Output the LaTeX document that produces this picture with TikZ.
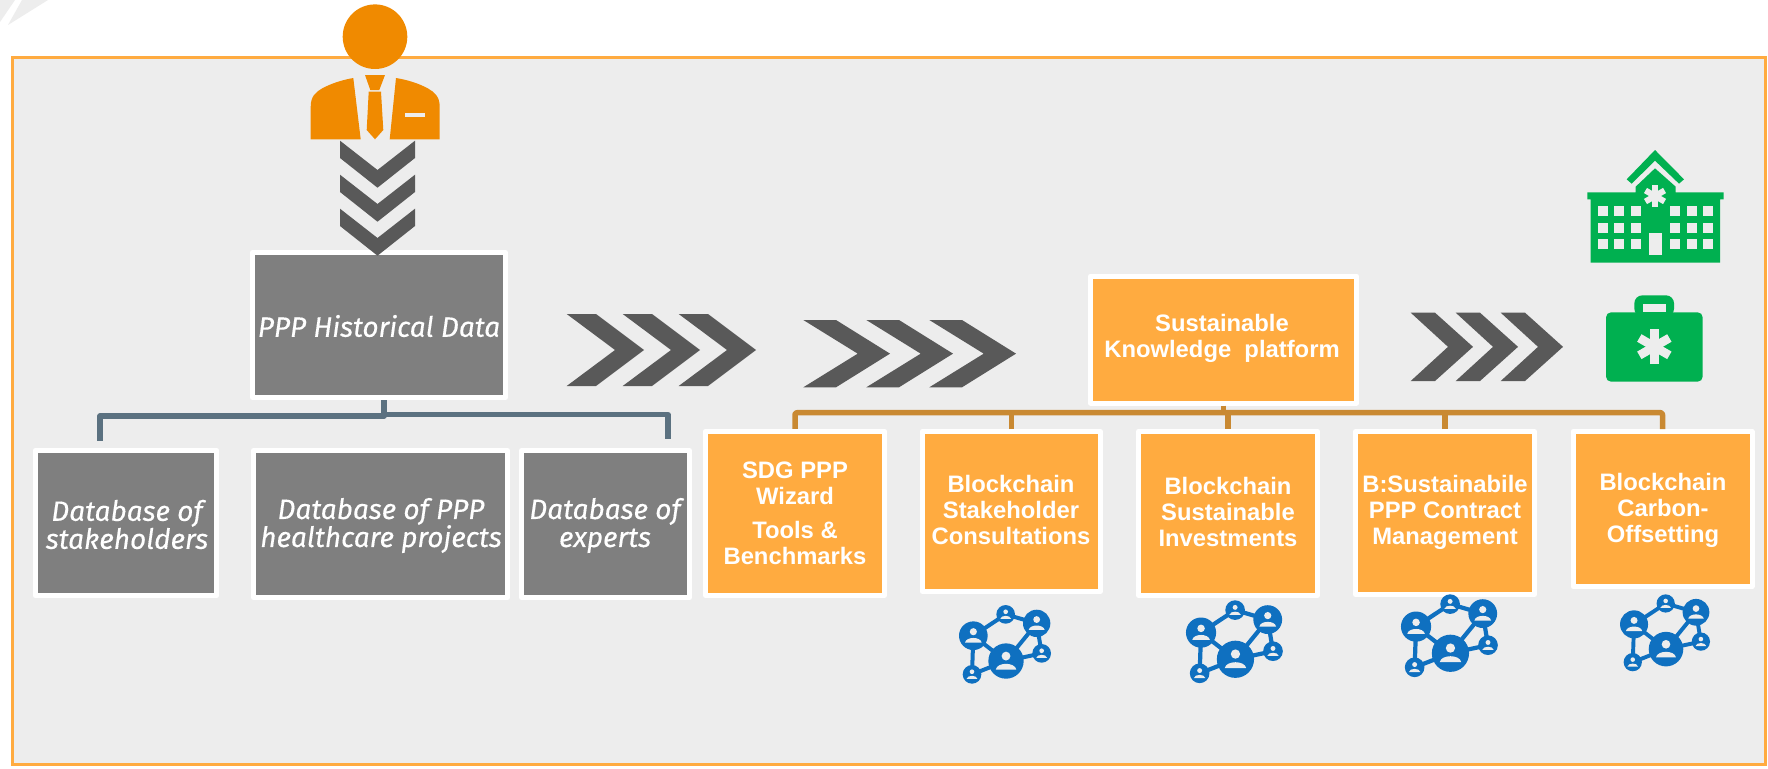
\documentclass[tikz,border=0pt]{standalone}
\usepackage{fontspec}
\setmainfont{Liberation Sans}
\newfontfamily\itfont{Fira Sans}[ItalicFeatures={FakeBold=0.3}]
\usetikzlibrary{calc}
\definecolor{framec}{HTML}{FFAB40}
\definecolor{panel}{HTML}{EDEDED}
\definecolor{greybox}{HTML}{7F7F7F}
\definecolor{chev}{HTML}{595959}
\definecolor{manor}{HTML}{F08A00}
\definecolor{greenc}{HTML}{00B050}
\definecolor{netblue}{HTML}{0F70C0}
\definecolor{slatec}{HTML}{5B7180}
\definecolor{brownc}{HTML}{C98932}
\tikzset{
  boxbase/.style={rectangle,draw=white,line width=5pt,line join=round,inner sep=0pt,outer sep=2.5pt},
  gbox/.style={boxbase,fill=greybox},
  obox/.style={boxbase,fill=framec},
  gtext/.style={text=white,align=center,inner sep=0pt,font=\fontsize{28}{28}\selectfont\itfont\itshape},
  otext/.style={text=white,align=center,inner sep=0pt,font=\fontsize{23.8}{26}\selectfont\bfseries},
  slateline/.style={draw=slatec,line width=5.5pt,line join=round},
  brownline/.style={draw=brownc,line width=5.5pt,line join=round,rounded corners=2pt},
}
% chevron pointing right: left x, top y, bottom y, top width, tip x, notch x
\newcommand{\chevR}[6]{\fill[chev] (#1,#2) -- (#1+#4,#2) -- (#5,{(#2+#3)/2}) -- (#1+#4,#3) -- (#1,#3) -- (#6,{(#2+#3)/2}) -- cycle;}
% person-in-disc network icon, measured in 3x units
\newcommand{\netw}[3]{%
\begin{scope}[shift={(#1,#2)},x=#3pt,y=-#3pt,shift={(-30,-32)}]
  \draw[netblue,line width=12*#3 pt]
    (70,122) -- (167,58) -- (260,85) -- (168,198) -- (70,122) -- (66,238) -- (168,198) -- (275,175) -- (260,85);
  \foreach \cx/\cy/\r in {168/198/53,70/122/43,167/58/28,260/85/41,275/175/28,66/238/28}{
    \fill[netblue] (\cx,\cy) circle (\r);
    \fill[panel] (\cx,\cy-0.28*\r) circle (0.25*\r);
    \fill[panel] (\cx-0.58*\r,\cy+0.48*\r) .. controls (\cx-0.5*\r,\cy+0.05*\r) and (\cx+0.5*\r,\cy+0.05*\r) .. (\cx+0.58*\r,\cy+0.48*\r) -- cycle;
  }
\end{scope}}
\begin{document}
\begin{tikzpicture}[x=1pt,y=-1pt]
\useasboundingbox (0,0) rectangle (1768,768);
\fill[white] (0,0) rectangle (1768,768);
% faint logo remnant in the corner
\fill[black!7] (0,0) -- (15,0) -- (0,22) -- cycle;
\fill[black!7] (22,0) -- (48,0) -- (8,25) -- cycle;
% frame
\draw[framec,line width=3pt,fill=panel] (12,58) rectangle (1765,764);

% person
\fill[manor] (375,36.7) circle (32.3);
\fill[manor] (310.7,139.3) -- (310.7,106.7) .. controls (310.7,96) and (316,92) .. (322,88.5) .. controls (331,83.5) and (342,80) .. (353.3,78) -- (360.7,139.3) -- cycle;
\fill[manor] (439.7,139.3) -- (439.7,106.7) .. controls (439.7,96) and (434,92) .. (428,88.5) .. controls (419,83.5) and (408,80) .. (396,78) -- (389.7,139.3) -- cycle;
\fill[panel] (405.3,113.3) rectangle (425,117.3);
\fill[manor] (365,75) -- (385,75) -- (379.3,90) -- (370.3,90) -- cycle;
\fill[manor] (368.7,91.7) -- (381,91.7) -- (383.3,130) -- (375,139.3) -- (366.7,130) -- cycle;

% right chevrons
\foreach \d in {0,56,112}{\chevR{566.7+\d}{314}{386}{29.3}{644+\d}{615+\d}}
\foreach \d in {0,63,126}{\chevR{803.3+\d}{320}{387.3}{32.7}{890+\d}{857.7+\d}}
\foreach \d in {0,45,90}{\chevR{1410.7+\d}{312.7}{381}{24.3}{1473+\d}{1448+\d}}

% boxes
\node[gbox,minimum width=253pt,minimum height=145pt] (hist) at (379,325) {};
\node[gtext] (histT) at (379,326) {PPP Historical Data};
\node[gbox,minimum width=181.5pt,minimum height=145pt] (dbA) at (126,523) {};
\node[gtext] (dbAT) at (127,524.5) {Database of\\stakeholders};
\node[gbox,minimum width=254pt,minimum height=147pt] (dbB) at (380.5,524) {};
\node[gtext] (dbBT) at (381,525.5) {Database of PPP\\healthcare projects};
\node[gbox,minimum width=168pt,minimum height=147pt] (dbC) at (605.5,524) {};
\node[gtext] (dbCT) at (605,525.5) {Database of\\experts};

\node[obox,minimum width=266pt,minimum height=127pt] (skp) at (1223.5,339.5) {};
\node[otext] (skpT) at (1222,338.5) {Sustainable\\Knowledge \ platform};
\node[obox,minimum width=179pt,minimum height=164pt] (sdg) at (795,513.3) {};
\node[otext] (sdgT) at (795,513) {SDG PPP\\Wizard\\[8pt]Tools \&\\Benchmarks};
\node[obox,minimum width=178pt,minimum height=160pt] (bcs) at (1011.3,511.5) {};
\node[otext] (bcsT) at (1011,510) {Blockchain\\Stakeholder\\Consultations};
\node[obox,minimum width=179pt,minimum height=164pt] (bci) at (1228,513.3) {};
\node[otext] (bciT) at (1228,512) {Blockchain\\Sustainable\\Investments};
\node[obox,minimum width=179pt,minimum height=163pt] (bpc) at (1445,513) {};
\node[otext] (bpcT) at (1445,512) {B:Sustainabile\\PPP Contract\\Management};
\node[obox,minimum width=179pt,minimum height=155pt] (bco) at (1662.5,509) {};
\node[otext] (bcoT) at (1663,510) {Blockchain\\Carbon-\\Offsetting};

% downward chevrons
\foreach \d in {0,34,68}{
  \fill[chev] (340,140.7+\d) -- (377.5,170+\d) -- (415,140.7+\d) -- (415,158+\d) -- (377.5,187.7+\d) -- (340,158+\d) -- cycle;
}

% slate connectors
\coordinate (slL) at (100,416);
\coordinate (slLe) at (100,441);
\coordinate (slR) at (668,414.7);
\coordinate (slRe) at (668,439);
\draw[slateline] ([xshift=5pt]hist.south) -- ([xshift=5pt]hist.south |- slL) -- (slL) -- (slLe);
\draw[slateline] ([xshift=5pt]hist.south |- slR) -- (slR) -- (slRe);

% brown connectors
\coordinate (brY) at (0,412.7);
\draw[brownline] (sdg.north) |- (bco.north |- brY) -- (bco.north);
\draw[brownline,rounded corners=0pt] (bcs.north) -- (bcs.north |- brY);
\draw[brownline,rounded corners=0pt] (bci.north) -- (bci.north |- brY);
\draw[brownline,rounded corners=0pt] (bpc.north) -- (bpc.north |- brY);
\draw[brownline,rounded corners=0pt] (skp.south) -- (skp.south |- brY);

% hospital
\begin{scope}[shift={(1570,140)},x=1/3*1pt,y=-1/3*1pt]
  \fill[greenc] (255,30) -- (342,118) -- (327,131) -- (255,62) -- (185,131) -- (170,118) -- cycle;
  \fill[greenc] (52,157) -- (197,157) -- (197,140) -- (255,85) -- (317,140) -- (317,157) -- (461,157) -- (461,178) -- (450,178) -- (450,368) -- (62,368) -- (62,178) -- (52,178) -- cycle;
  \foreach \wx in {83,132,182,300,350,400}{
    \foreach \wy in {198,248,298}{
      \fill[panel] (\wx,\wy) rectangle ++(30,30);
    }
  }
  \fill[panel] (237,278) rectangle (276,346);
  \foreach \a in {90,30,-30}{
    \draw[panel,line width=6pt] ($(255,168)+(\a:33)$) -- ($(255,168)+(\a+180:33)$);
  }
  % medical bag
  \fill[greenc,rounded corners=8pt] (193,530) -- (193,466) -- (312,466) -- (312,530) -- cycle;
  \fill[panel] (220,493) rectangle (288,517);
  \fill[greenc,rounded corners=5pt] (108,517) rectangle (398,725);
  \foreach \a in {90,30,-30}{
    \draw[panel,line width=8.7pt] ($(253,620)+(\a:52)$) -- ($(253,620)+(\a+180:52)$);
  }
\end{scope}

% network icons
\netw{960}{605.7}{0.3333}
\netw{1187}{601}{0.351}
\netw{1402}{595}{0.351}
\netw{1621}{595}{0.326}
\end{tikzpicture}
\end{document}
